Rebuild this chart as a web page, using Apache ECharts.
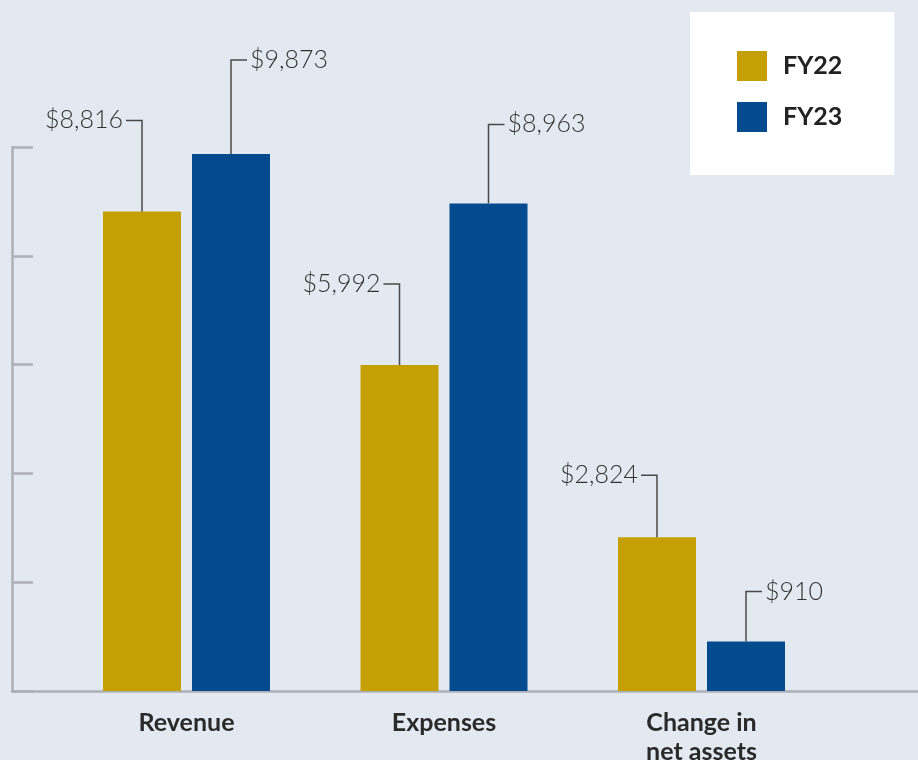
<!DOCTYPE html>
<html>
<head>
<meta charset="utf-8">
<script src="https://cdn.jsdelivr.net/npm/echarts@6/dist/echarts.min.js"></script>
<style>
  html, body { margin: 0; padding: 0; background: #e2e9f1; }
  #chart { width: 918px; height: 760px; }
</style>
</head>
<body>
<div id="chart"></div>
<script>
const categories = ['Revenue', 'Expenses', 'Change in\nnet assets'];
const seriesNames = ['FY22', 'FY23'];
const fy22 = [8816, 5992, 2824];
const fy23 = [9873, 8963, 910];
const yTicks = [0, 2000, 4000, 6000, 8000, 10000];

// how far above each bar top its callout label sits (px)
const calloutRise = [
  [91, 81, 62],
  [94, 79, 50],
];

const colors = ['#c4a004', '#034a8f'];
const barW = 78;
const barGapPx = 11;
const axisGray = '#adb0b5';

const chartEl = document.getElementById('chart');
const myChart = echarts.init(chartEl);

const fmt = (v) => '$' + v.toLocaleString('en-US');

const calloutData = [];
[fy22, fy23].forEach((vals, s) => {
  vals.forEach((v, c) => calloutData.push([c, v, s]));
});

function renderCallout(params, api) {
  const c = api.value(0);
  const v = api.value(1);
  const s = api.value(2);
  const p = api.coord([c, v]);
  const side = s === 0 ? -1 : 1;
  const x = p[0] + side * (barW + barGapPx) / 2;
  const top = p[1];
  const y = top - calloutRise[s][c];
  return {
    type: 'group',
    children: [
      {
        type: 'polyline',
        shape: { points: [[x, top], [x, y], [x + side * 16, y]] },
        style: { stroke: '#4a4a4a', lineWidth: 1.5, fill: null },
      },
      {
        type: 'text',
        x: x + side * 19,
        y: y,
        style: {
          text: fmt(v),
          fill: '#333333',
          font: '300 25px Lato',
          align: s === 0 ? 'right' : 'left',
          verticalAlign: 'middle',
        },
      },
    ],
  };
}

const option = {
  backgroundColor: '#e2e9f1',
  animation: false,
  textStyle: { fontFamily: 'Lato' },
  legend: {
    orient: 'vertical',
    left: 690,
    top: 12,
    padding: [39, 52, 43, 47],
    backgroundColor: '#ffffff',
    itemWidth: 30,
    itemHeight: 30,
    itemGap: 21,
    icon: 'rect',
    data: seriesNames,
    textStyle: {
      fontFamily: 'Lato',
      fontWeight: 'bold',
      fontSize: 25,
      color: '#222222',
      padding: [0, 0, 0, 11],
    },
  },
  grid: [
    { left: 57.75, width: 772.5, top: 147, bottom: 69, outerBoundsMode: 'none' },
    { left: 12, right: 0, top: 147, bottom: 69, outerBoundsMode: 'none' },
  ],
  xAxis: [
    {
      type: 'category',
      gridIndex: 0,
      data: categories,
      axisLine: { show: false },
      axisTick: { show: false },
      axisLabel: {
        interval: 0,
        margin: 17,
        fontFamily: 'Lato',
        fontWeight: 'bold',
        fontSize: 25,
        lineHeight: 29,
        color: '#2a2a2a',
      },
    },
    {
      type: 'category',
      gridIndex: 1,
      data: [''],
      axisLine: { show: true, lineStyle: { color: axisGray, width: 2.5 } },
      axisTick: { show: false },
      axisLabel: { show: false },
    },
  ],
  yAxis: [
    {
      type: 'value',
      gridIndex: 0,
      min: yTicks[0],
      max: yTicks[yTicks.length - 1],
      interval: yTicks[1] - yTicks[0],
      show: false,
    },
    {
      type: 'value',
      gridIndex: 1,
      min: yTicks[0],
      max: yTicks[yTicks.length - 1],
      interval: yTicks[1] - yTicks[0],
      axisLine: { show: true, lineStyle: { color: axisGray, width: 2.5 } },
      axisTick: { show: true, inside: true, length: 21, lineStyle: { color: axisGray, width: 2.5 } },
      axisLabel: { show: false },
      splitLine: { show: false },
    },
  ],
  series: [
    {
      name: seriesNames[0],
      type: 'bar',
      xAxisIndex: 0,
      yAxisIndex: 0,
      data: fy22,
      barWidth: barW,
      barGap: (barGapPx / barW * 100) + '%',
      itemStyle: { color: colors[0] },
      emphasis: { disabled: true },
    },
    {
      name: seriesNames[1],
      type: 'bar',
      xAxisIndex: 0,
      yAxisIndex: 0,
      data: fy23,
      barWidth: barW,
      barGap: (barGapPx / barW * 100) + '%',
      itemStyle: { color: colors[1] },
      emphasis: { disabled: true },
    },
    {
      type: 'custom',
      xAxisIndex: 0,
      yAxisIndex: 0,
      data: calloutData,
      renderItem: renderCallout,
      silent: true,
      z: 5,
    },
  ],
};

myChart.setOption(option);
</script>
</body>
</html>
